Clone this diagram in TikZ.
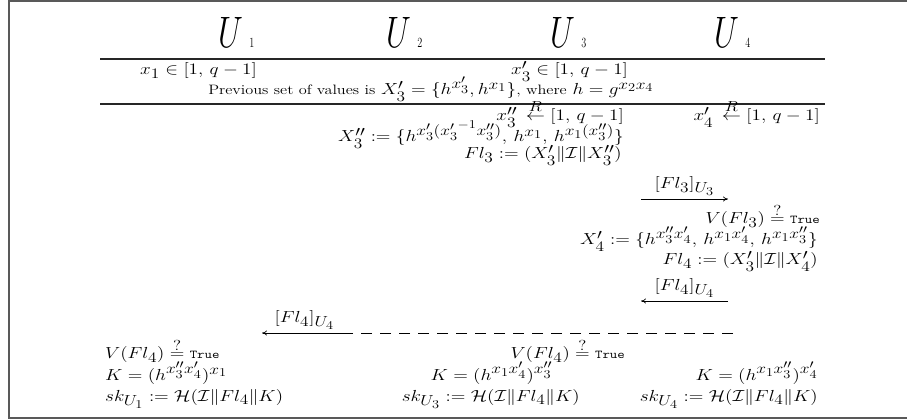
\RequirePackage{fix-cm}
\documentclass[tikz,border=0pt]{standalone}
\usepackage{amsmath,amssymb}
\usetikzlibrary{arrows.meta}
\DeclareMathSizes{16}{16}{14.5}{12}
\newcommand{\tru}{\mbox{\ttfamily\fontsize{12}{12}\selectfont True}}
\newcommand{\smtx}[1]{{\fontsize{13.6}{16}\selectfont #1}}
\begin{document}
\begin{tikzpicture}[x=1pt,y=-1pt,
  txt/.style={inner sep=0pt,xscale=1.2,font=\fontsize{16}{19}\selectfont},
  party/.style={inner sep=0pt,anchor=base west,xscale=0.73},
  rulel/.style={line width=1.6pt,black!85},
  framel/.style={line width=1.8pt,black!65},
  msg/.style={line width=0.7pt,-{To[length=5pt,width=5pt]}},
  dashmsg/.style={line width=0.7pt,dash pattern=on 11pt off 8pt},
  lab/.style={txt,anchor=south,inner sep=3pt}]
\useasboundingbox (0,0) rectangle (907,419);
% frame
\coordinate (f1) at (907,1); \coordinate (f2) at (9,1);
\coordinate (f3) at (9,418); \coordinate (f4) at (907,418);
\draw[framel] (f1) -- (f2) -- (f3) -- (f4);
% parties
\node[party] (U1) at (218,48) {{\fontsize{44}{44}\selectfont$U$}\hspace{9pt}{\fontsize{14}{14}\selectfont 1}};
\node[party] (U2) at (386,48) {{\fontsize{44}{44}\selectfont$U$}\hspace{9pt}{\fontsize{14}{14}\selectfont 2}};
\node[party] (U3) at (550,48) {{\fontsize{44}{44}\selectfont$U$}\hspace{9pt}{\fontsize{14}{14}\selectfont 3}};
\node[party] (U4) at (714,48) {{\fontsize{44}{44}\selectfont$U$}\hspace{9pt}{\fontsize{14}{14}\selectfont 4}};
% rules
\coordinate (r1a) at (100,59); \coordinate (r1b) at (825,59);
\coordinate (r2a) at (100,104); \coordinate (r2b) at (825,104);
\draw[rulel] (r1a) -- (r1b);
\draw[rulel] (r2a) -- (r2b);
% setup
\node[txt,anchor=base west] (a1) at (140,75) {$x_1 \in [1,\, q-1]$};
\node[txt,anchor=base west] (a3) at (511,75) {$x'_3 \in [1,\, q-1]$};
\node[txt,anchor=base] (prev) at (431,95) {\smtx{Previous set of values is} $X'_3=\{h^{x'_3},h^{x_1}\}$\smtx{, where} $h=g^{x_2x_4}$};
% U3 / U4 computations
\node[txt,anchor=base east] (r3) at (624,121) {$x''_3\, \stackrel{R}{\leftarrow} [1,\, q-1]$};
\node[txt,anchor=base east] (r4) at (820,121) {$x'_4\, \stackrel{R}{\leftarrow} [1,\, q-1]$};
\node[txt,anchor=base east] (X3) at (624,142) {$X''_3 := \{h^{x'_3({x'_3}^{-1}x''_3)},\, h^{x_1},\, h^{x_1(x''_3)}\}$};
\node[txt,anchor=base east] (F3) at (622,159) {$Fl_3 := (X'_3\|\mathcal{I}\|X''_3)$};
\coordinate (m1s) at (641,199); \coordinate (m1e) at (728,199);
\draw[msg] (m1s) -- node[lab] (l1) {$[Fl_3]_{U_3}$} (m1e);
\node[txt,anchor=base east] (V4) at (820,224) {$V(Fl_3)\stackrel{?}{=}\tru$};
\node[txt,anchor=base east] (X4) at (818,245) {$X'_4 := \{h^{x''_3x'_4},\, h^{x_1x'_4},\, h^{x_1x''_3}\}$};
\node[txt,anchor=base east] (F4) at (818,265) {$Fl_4 := (X'_3\|\mathcal{I}\|X'_4)$};
\coordinate (m2s) at (728,301); \coordinate (m2e) at (641,301);
\draw[msg] (m2s) -- node[lab] (l2) {$[Fl_4]_{U_4}$} (m2e);
\coordinate (m3s) at (733,333); \coordinate (m3m) at (347,333); \coordinate (m3e) at (262,333);
\draw[dashmsg] (m3s) -- (m3m);
\draw[msg] (m3m) -- node[lab] (l3) {$[Fl_4]_{U_4}$} (m3e);
% final
\node[txt,anchor=base west] (V1) at (105,359) {$V(Fl_4)\stackrel{?}{=}\tru$};
\node[txt,anchor=base east] (V3) at (625,359) {$V(Fl_4)\stackrel{?}{=}\tru$};
\node[txt,anchor=base west] (K1) at (105,380) {$K=(h^{x''_3x'_4})^{x_1}$};
\node[txt,anchor=base east] (K3) at (553,380) {$K=(h^{x_1x'_4})^{x''_3}$};
\node[txt,anchor=base east] (K4) at (818,380) {$K=(h^{x_1x''_3})^{x'_4}$};
\node[txt,anchor=base west] (S1) at (105,401) {$sk_{U_1}:=\mathcal{H}(\mathcal{I}\|Fl_4\|K)$};
\node[txt,anchor=base east] (S3) at (580,401) {$sk_{U_3}:=\mathcal{H}(\mathcal{I}\|Fl_4\|K)$};
\node[txt,anchor=base east] (S4) at (818,401) {$sk_{U_4}:=\mathcal{H}(\mathcal{I}\|Fl_4\|K)$};
\end{tikzpicture}
\end{document}
